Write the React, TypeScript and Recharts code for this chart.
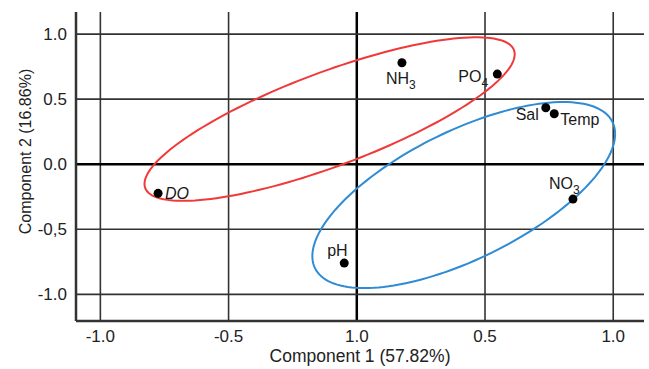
import * as React from "react";
import { Label, ReferenceLine, Scatter, ScatterChart, XAxis, YAxis } from "recharts";

// ticks as printed in the figure (labels kept verbatim)
const xTicks = [-1, -0.5, 0, 0.5, 1];
const xTickLabels = ["-1.0", "-0.5", "1.0", "0.5", "1.0"];
const yTicks = [1, 0.5, 0, -0.5, -1];
const yTickLabels = ["1.0", "0.5", "0.0", "-0,5", "-1.0"];
const xDomain = [-1.095, 1.12];
const yDomain = [-1.205, 1.17];

// PCA loadings
const variables = ["NH3", "PO4", "Sal", "Temp", "NO3", "pH", "DO"];
const component1 = [0.176, 0.548, 0.737, 0.77, 0.843, -0.049, -0.775];
const component2 = [0.78, 0.693, 0.434, 0.388, -0.268, -0.76, -0.224];

// group ellipses: centre + two conjugate half-axes, in data units
const redGroup = { cx: -0.106, cy: 0.347, ux: 0.719, uy: 0.53, vx: 0.064, vy: -0.338 };
const blueGroup = { cx: 0.417, cy: -0.237, ux: 0.58, uy: 0.562, vx: 0.11, vy: -0.442 };

const FONT = "'Liberation Sans', Arial, sans-serif";
const INK = "#222";
const W = 649;
const H = 369;

const points = variables.map((name, i) => ({ name, x: component1[i], y: component2[i] }));

function outline(e: typeof redGroup) {
  const pts: { x: number; y: number }[] = [];
  const n = 160;
  for (let k = 0; k <= n; k++) {
    const t = (k / n) * Math.PI * 2;
    pts.push({
      x: e.cx + e.ux * Math.cos(t) + e.vx * Math.sin(t),
      y: e.cy + e.uy * Math.cos(t) + e.vy * Math.sin(t),
    });
  }
  return pts;
}

// label placement relative to each dot (px)
const labelPlacement: Record<string, { dx: number; dy: number; anchor: string }> = {
  NH3: { dx: -16, dy: 21, anchor: "start" },
  PO4: { dx: -39, dy: 8, anchor: "start" },
  Sal: { dx: -7, dy: 12, anchor: "end" },
  Temp: { dx: 6, dy: 11, anchor: "start" },
  NO3: { dx: -24, dy: -10, anchor: "start" },
  pH: { dx: -17, dy: -7, anchor: "start" },
  DO: { dx: 7, dy: 6, anchor: "start" },
};

function VarName({ name }: { name: string }) {
  const m = name.match(/^([A-Za-z]+?)(\d)$/);
  if (m) {
    return (
      <>
        <tspan>{m[1]}</tspan>
        <tspan dy={5} fontSize={12}>
          {m[2]}
        </tspan>
      </>
    );
  }
  return <tspan>{name}</tspan>;
}

function PointShape(props: any) {
  const { cx, cy, payload } = props;
  const p = labelPlacement[payload.name];
  return (
    <g>
      <circle cx={cx} cy={cy} r={4.5} fill="#000" />
      <text
        x={cx + p.dx}
        y={cy + p.dy}
        textAnchor={p.anchor as any}
        fontSize={16}
        fontFamily={FONT}
        fill="#1a1a1a"
        fontStyle={payload.name === "DO" ? "italic" : "normal"}
      >
        <VarName name={payload.name} />
      </text>
    </g>
  );
}

const noShape = () => <g />;

export default function App() {
  return (
    <div style={{ position: "absolute", left: 0, top: 0, background: "#fff" }}>
      <ScatterChart width={W} height={H} margin={{ top: 12, right: 5, bottom: 48, left: 76 }}>
        <XAxis type="number" dataKey="x" domain={xDomain} allowDataOverflow hide />
        <YAxis type="number" dataKey="y" domain={yDomain} allowDataOverflow hide />

        {xTicks.map((v, i) => (
          <ReferenceLine
            key={`vx${i}`}
            x={v}
            stroke={v === 0 ? "#000" : "#333"}
            strokeWidth={v === 0 ? 2.5 : 1.6}
            label={
              <Label
                content={({ viewBox }: any) => (
                  <text
                    x={viewBox.x}
                    y={viewBox.y + viewBox.height + 21}
                    textAnchor="middle"
                    fontSize={17}
                    fontFamily={FONT}
                    fill={INK}
                  >
                    {xTickLabels[i]}
                  </text>
                )}
              />
            }
          />
        ))}
        {yTicks.map((v, i) => (
          <ReferenceLine
            key={`hy${i}`}
            y={v}
            stroke={v === 0 ? "#000" : "#333"}
            strokeWidth={v === 0 ? 2.5 : 1.6}
            label={
              <Label
                content={({ viewBox }: any) => (
                  <text
                    x={viewBox.x - 9}
                    y={viewBox.y + 6}
                    textAnchor="end"
                    fontSize={17}
                    fontFamily={FONT}
                    fill={INK}
                  >
                    {yTickLabels[i]}
                  </text>
                )}
              />
            }
          />
        ))}

        {/* axis lines with their titles */}
        <ReferenceLine
          y={yDomain[0]}
          stroke="#333"
          strokeWidth={2.5}
          label={
            <Label
              content={({ viewBox }: any) => (
                <text
                  x={viewBox.x + viewBox.width / 2}
                  y={viewBox.y + 41}
                  textAnchor="middle"
                  fontSize={17.5}
                  fontFamily={FONT}
                  fill={INK}
                >
                  Component 1 (57.82%)
                </text>
              )}
            />
          }
        />
        <ReferenceLine
          x={xDomain[0]}
          stroke="#333"
          strokeWidth={2.5}
          label={
            <Label
              content={({ viewBox }: any) => {
                const x = viewBox.x - 51;
                const y = viewBox.y + viewBox.height / 2 - 15;
                return (
                  <text
                    x={x}
                    y={y}
                    transform={`rotate(-90 ${x} ${y})`}
                    textAnchor="middle"
                    dominantBaseline="central"
                    fontSize={16}
                    fontFamily={FONT}
                    fill={INK}
                  >
                    Component 2 (16.86%)
                  </text>
                );
              }}
            />
          }
        />

        <Scatter
          data={outline(redGroup)}
          line={{ stroke: "#f03a3a", strokeWidth: 2 }}
          lineType="joint"
          shape={noShape}
          isAnimationActive={false}
        />
        <Scatter
          data={outline(blueGroup)}
          line={{ stroke: "#2f8bd3", strokeWidth: 2 }}
          lineType="joint"
          shape={noShape}
          isAnimationActive={false}
        />
        <Scatter data={points} shape={PointShape} isAnimationActive={false} />
      </ScatterChart>
    </div>
  );
}
